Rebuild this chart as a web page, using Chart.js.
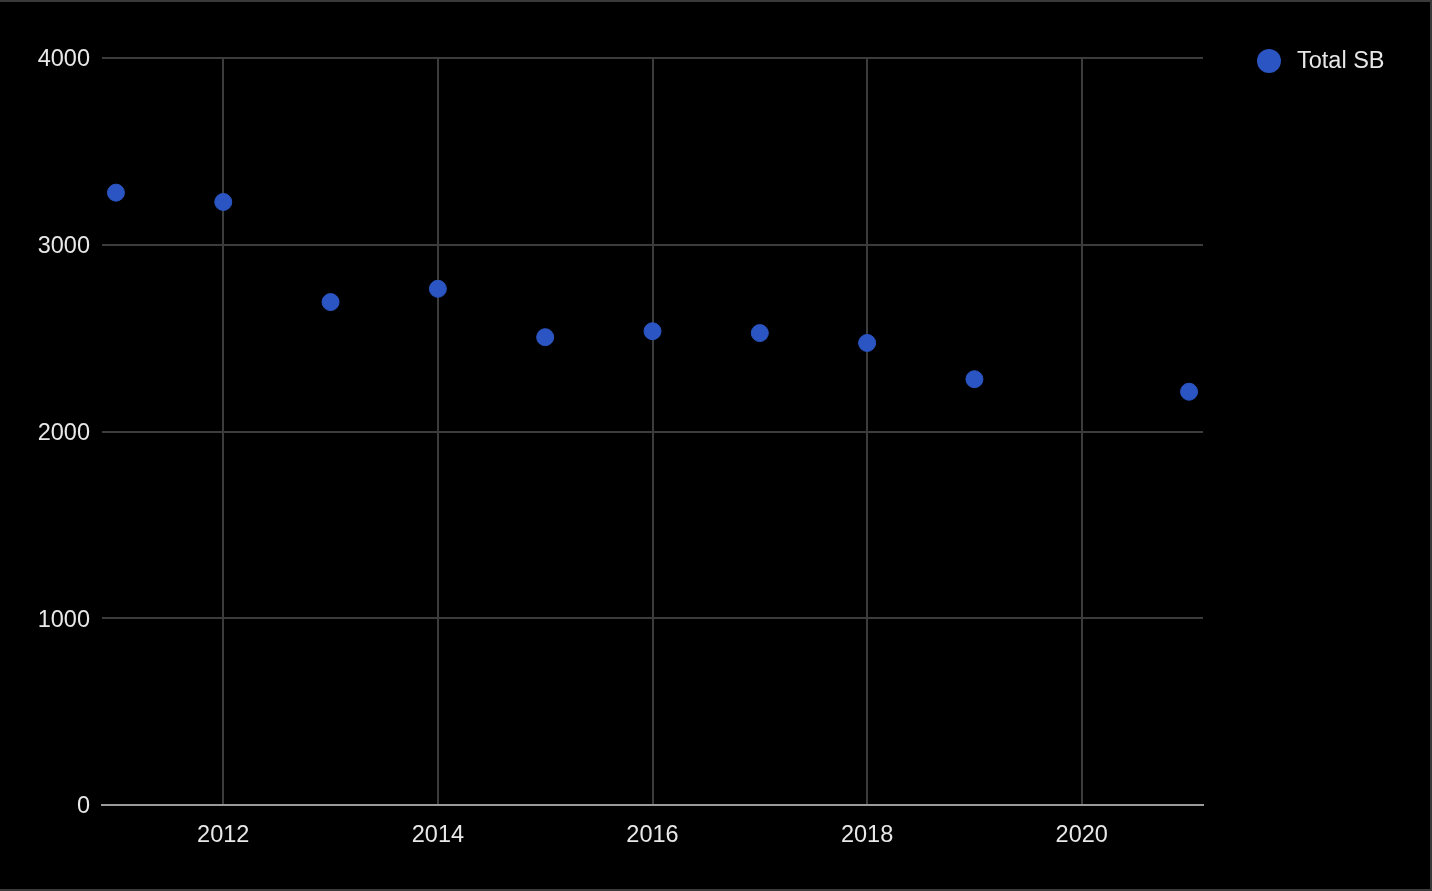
<!DOCTYPE html>
<html>
<head>
<meta charset="utf-8">
<script src="https://cdn.jsdelivr.net/npm/chart.js@4/dist/chart.umd.min.js"></script>
<style>
    html, body { margin: 0; padding: 0; background: #000; }
    #wrap {
        position: relative;
        width: 1430px; height: 887px;
        border-top: 2px solid #3a3a3a;
        border-right: 2px solid #3a3a3a;
        border-bottom: 2px solid #3a3a3a;
        background: #000;
    }
    #legend {
        position: absolute; left: 1257px; top: 45px;
        display: flex; align-items: center;
        font: 23.5px "Liberation Sans", Arial, sans-serif; color: #e8e8e8;
    }
    #legend .dot {
        width: 24px; height: 24px; border-radius: 50%;
        background: #2a55c2; margin-right: 16px;
    }
</style>
</head>
<body>
<div id="wrap">
    <canvas id="chart" width="1430" height="887"></canvas>
    <div id="legend"><span class="dot"></span><span>Total SB</span></div>
</div>
<script>
// Data (2020 season not plotted)
const years = [2011, 2012, 2013, 2014, 2015, 2016, 2017, 2018, 2019, 2021];
const totalSB = [3279, 3229, 2693, 2764, 2505, 2537, 2527, 2474, 2280, 2213];
const xTicks = [2012, 2014, 2016, 2018, 2020];
const yTicks = [0, 1000, 2000, 3000, 4000];

const font = { family: '"Liberation Sans", Arial, sans-serif', size: 23.5 };

new Chart(document.getElementById('chart'), {
    type: 'scatter',
    data: {
        datasets: [{
            label: 'Total SB',
            data: years.map((y, i) => ({ x: y, y: totalSB[i] })),
            backgroundColor: '#2a55c2',
            borderColor: '#2a55c2',
            pointRadius: 8.5,
            pointHoverRadius: 8.5
        }]
    },
    options: {
        responsive: false,
        animation: false,
        layout: { padding: { top: 56, right: 227, bottom: 0, left: 0 } },
        plugins: {
            legend: { display: false },
            tooltip: { enabled: false }
        },
        scales: {
            x: {
                type: 'linear',
                min: 2010.87,
                max: 2021.13,
                afterBuildTicks: scale => { scale.ticks = xTicks.map(v => ({ value: v })); },
                afterFit: scale => { scale.height = 84; },
                grid: { color: '#3c3c3c', lineWidth: 2, drawTicks: false },
                border: { display: true, color: '#9a9a9a', width: 2 },
                ticks: { color: '#e8e8e8', font: font, padding: 16, maxRotation: 0, callback: v => String(v) }
            },
            y: {
                min: 0,
                max: 4000,
                afterBuildTicks: scale => { scale.ticks = yTicks.map(v => ({ value: v })); },
                afterFit: scale => { scale.width = 102; },
                grid: { color: '#3c3c3c', lineWidth: 2, drawTicks: false },
                border: { display: false },
                ticks: { color: '#e8e8e8', font: font, padding: 12, labelOffset: 2, callback: v => String(v) }
            }
        }
    }
});
</script>
</body>
</html>
